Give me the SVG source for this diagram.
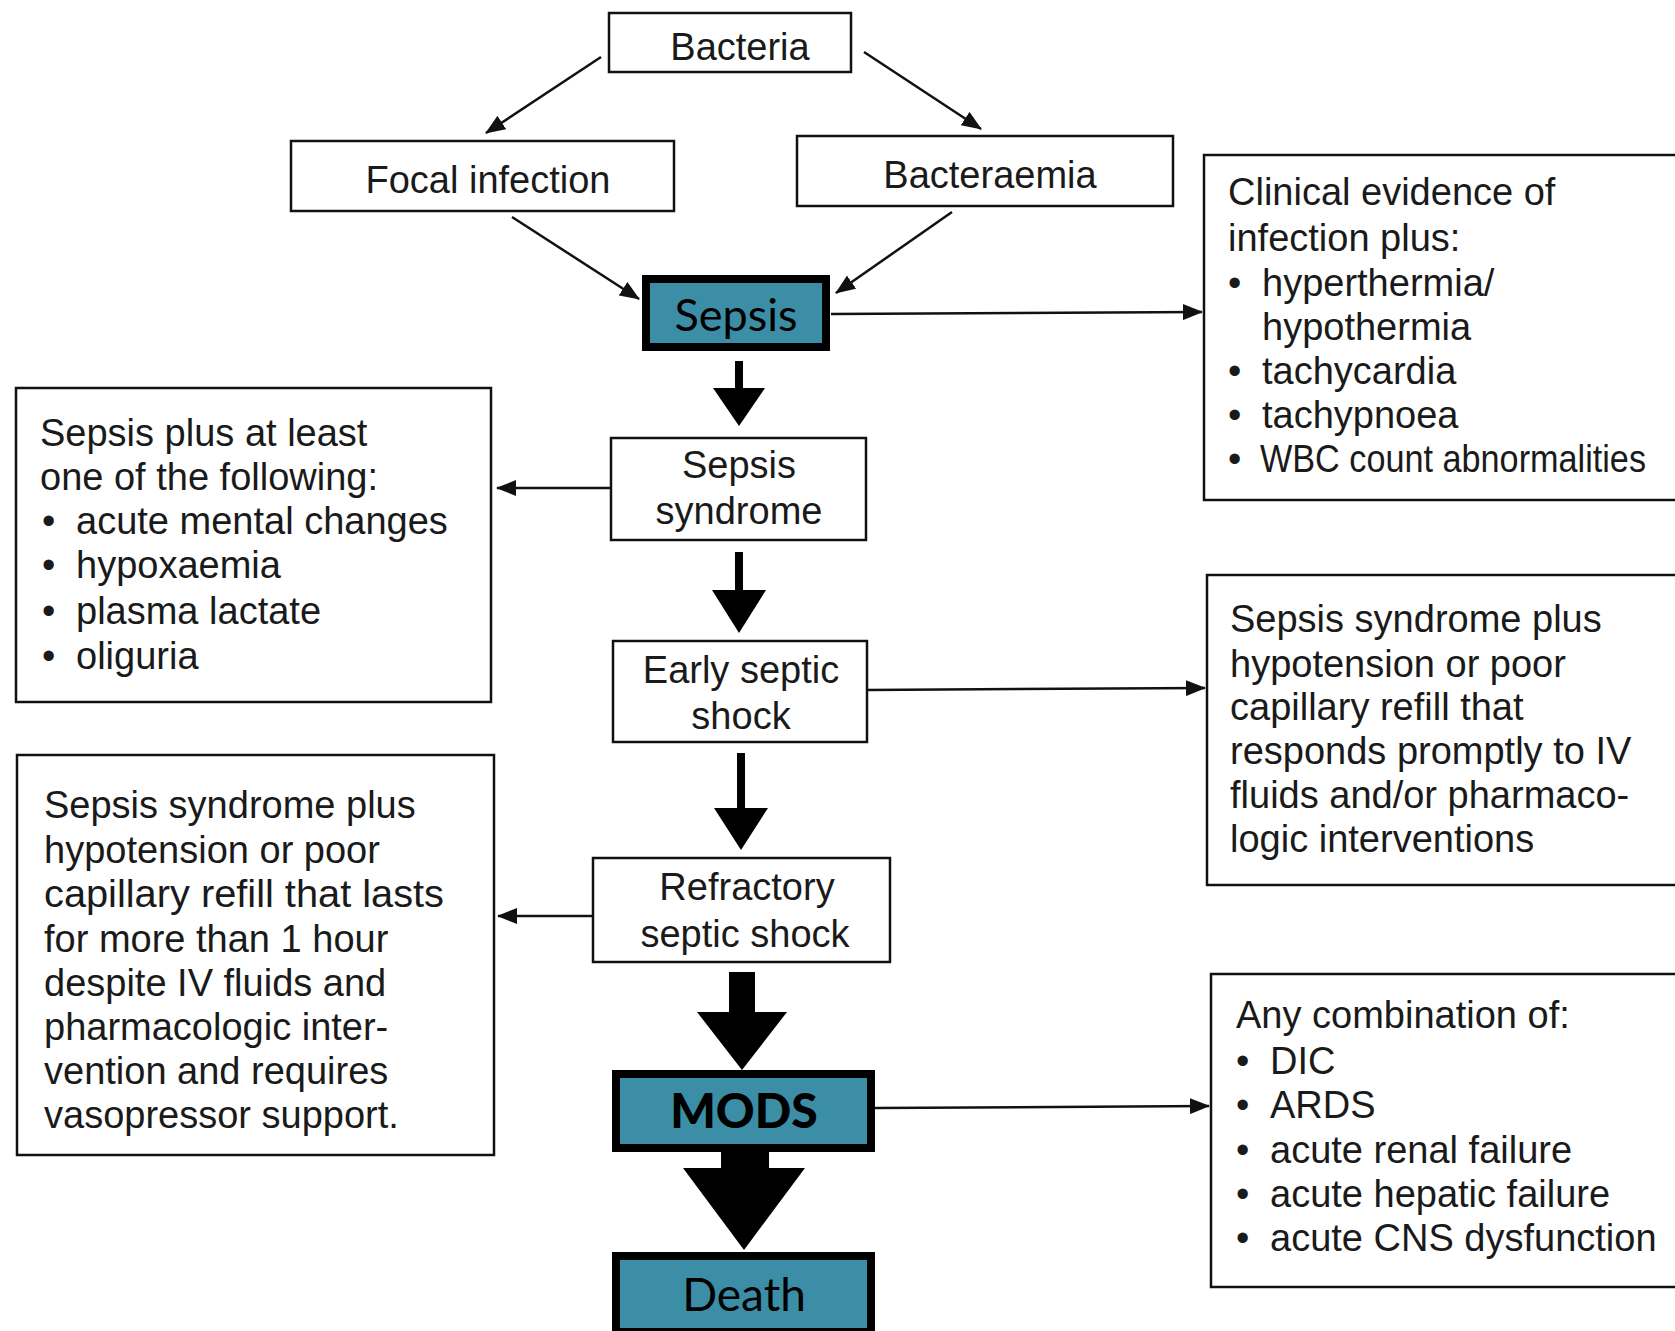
<svg xmlns="http://www.w3.org/2000/svg" width="1675" height="1331" viewBox="0 0 1675 1331">
<defs>
<style>
.box{fill:#fff;stroke:#111;stroke-width:2.5}
.tbox{fill:#3b8ea5;stroke:#000;stroke-width:8}
.t{font-family:"Liberation Sans",Arial,sans-serif;font-size:38px;fill:#1a1a1a}
.c{text-anchor:middle}
.g{font-family:Lato,"Open Sans",sans-serif;fill:#000;text-anchor:middle}
.ln{stroke:#111;stroke-width:2.5;fill:none}
.thick{fill:#000}
</style>
<marker id="ah" markerUnits="userSpaceOnUse" markerWidth="20" markerHeight="16" refX="19" refY="8" orient="auto">
<path d="M0,0 L20,8 L0,16 z" fill="#111"/>
</marker>
</defs>
<rect width="1675" height="1331" fill="#fff"/>

<g id="connectors">
<line class="ln" x1="601" y1="57" x2="486" y2="133" marker-end="url(#ah)"/>
<line class="ln" x1="864" y1="52" x2="981" y2="129" marker-end="url(#ah)"/>
<line class="ln" x1="512" y1="217" x2="639" y2="299" marker-end="url(#ah)"/>
<line class="ln" x1="952" y1="212" x2="836" y2="293" marker-end="url(#ah)"/>
<line class="ln" x1="831" y1="314" x2="1202" y2="312" marker-end="url(#ah)"/>
<line class="ln" x1="611" y1="488" x2="497" y2="488" marker-end="url(#ah)"/>
<line class="ln" x1="867" y1="690" x2="1205" y2="688" marker-end="url(#ah)"/>
<line class="ln" x1="593" y1="916" x2="498" y2="916" marker-end="url(#ah)"/>
<line class="ln" x1="875" y1="1108" x2="1209" y2="1106" marker-end="url(#ah)"/>
<rect class="thick" x="735" y="361" width="8" height="30"/>
<polygon class="thick" points="713,388 765,388 739,426"/>
<rect class="thick" x="735" y="552" width="8" height="40"/>
<polygon class="thick" points="712,590 766,590 739,633"/>
<rect class="thick" x="737" y="753" width="8" height="57"/>
<polygon class="thick" points="714,808 768,808 741,850"/>
<rect class="thick" x="729" y="972" width="26" height="42"/>
<polygon class="thick" points="697,1012 787,1012 742,1070"/>
<rect class="thick" x="721" y="1152" width="48" height="18"/>
<polygon class="thick" points="683,1168 805,1168 744,1250"/>
</g>

<g id="bacteria">
<rect class="box" x="609" y="13" width="242" height="59"/>
<text class="t c" x="740" y="60" font-size="39">Bacteria</text>
</g>
<g id="focal">
<rect class="box" x="291" y="141" width="383" height="70"/>
<text class="t c" x="488" y="193" font-size="40">Focal infection</text>
</g>
<g id="bacteraemia">
<rect class="box" x="797" y="136" width="376" height="70"/>
<text class="t c" x="990" y="188" font-size="40">Bacteraemia</text>
</g>
<g id="sepsis">
<rect class="tbox" x="646" y="279" width="180" height="68"/>
<text class="g" x="736" y="331" font-size="45">Sepsis</text>
</g>
<g id="clinical">
<rect class="box" x="1204" y="155" width="500" height="345"/>
<text class="t" x="1228" y="205">Clinical evidence of</text>
<text class="t" x="1228" y="251">infection plus:</text>
<text class="t" x="1228" y="296">•</text><text class="t" x="1262" y="296">hyperthermia/</text>
<text class="t" x="1262" y="340">hypothermia</text>
<text class="t" x="1228" y="384">•</text><text class="t" x="1262" y="384">tachycardia</text>
<text class="t" x="1228" y="428">•</text><text class="t" x="1262" y="428">tachypnoea</text>
<text class="t" x="1228" y="472">•</text><text class="t" x="1260" y="472" textLength="386" lengthAdjust="spacingAndGlyphs">WBC count abnormalities</text>
</g>
<g id="sepsis-syndrome">
<rect class="box" x="611" y="438" width="255" height="102"/>
<text class="t c" x="739" y="478">Sepsis</text>
<text class="t c" x="739" y="524">syndrome</text>
</g>
<g id="syndrome-def">
<rect class="box" x="16" y="388" width="475" height="314"/>
<text class="t" x="40" y="446">Sepsis plus at least</text>
<text class="t" x="40" y="490">one of the following:</text>
<text class="t" x="42" y="534">•</text><text class="t" x="76" y="534">acute mental changes</text>
<text class="t" x="42" y="578">•</text><text class="t" x="76" y="578">hypoxaemia</text>
<text class="t" x="42" y="624">•</text><text class="t" x="76" y="624">plasma lactate</text>
<text class="t" x="42" y="669">•</text><text class="t" x="76" y="669">oliguria</text>
</g>
<g id="early-septic-shock">
<rect class="box" x="613" y="641" width="254" height="101"/>
<text class="t c" x="741" y="683">Early septic</text>
<text class="t c" x="741" y="729">shock</text>
</g>
<g id="early-def">
<rect class="box" x="1207" y="575" width="500" height="310"/>
<text class="t" x="1230" y="632">Sepsis syndrome plus</text>
<text class="t" x="1230" y="677">hypotension or poor</text>
<text class="t" x="1230" y="720">capillary refill that</text>
<text class="t" x="1230" y="764">responds promptly to IV</text>
<text class="t" x="1230" y="808">fluids and/or pharmaco-</text>
<text class="t" x="1230" y="852">logic interventions</text>
</g>
<g id="refractory">
<rect class="box" x="593" y="858" width="297" height="104"/>
<text class="t c" x="747" y="900">Refractory</text>
<text class="t c" x="745" y="947">septic shock</text>
</g>
<g id="refractory-def">
<rect class="box" x="17" y="755" width="477" height="400"/>
<text class="t" x="44" y="818">Sepsis syndrome plus</text>
<text class="t" x="44" y="863">hypotension or poor</text>
<text class="t" x="44" y="907" textLength="400" lengthAdjust="spacingAndGlyphs">capillary refill that lasts</text>
<text class="t" x="44" y="952">for more than 1 hour</text>
<text class="t" x="44" y="996">despite IV fluids and</text>
<text class="t" x="44" y="1040">pharmacologic inter-</text>
<text class="t" x="44" y="1084">vention and requires</text>
<text class="t" x="44" y="1128">vasopressor support.</text>
</g>
<g id="mods">
<rect class="tbox" x="616" y="1074" width="255" height="74"/>
<text class="g" x="744" y="1128" font-size="48" font-weight="900">MODS</text>
</g>
<g id="mods-def">
<rect class="box" x="1211" y="974" width="500" height="313"/>
<text class="t" x="1236" y="1028">Any combination of:</text>
<text class="t" x="1236" y="1074">•</text><text class="t" x="1270" y="1074">DIC</text>
<text class="t" x="1236" y="1118">•</text><text class="t" x="1270" y="1118">ARDS</text>
<text class="t" x="1236" y="1163">•</text><text class="t" x="1270" y="1163">acute renal failure</text>
<text class="t" x="1236" y="1207">•</text><text class="t" x="1270" y="1207">acute hepatic failure</text>
<text class="t" x="1236" y="1251">•</text><text class="t" x="1270" y="1251">acute CNS dysfunction</text>
</g>
<g id="death">
<rect class="tbox" x="616" y="1256" width="255" height="76"/>
<text class="g" x="744" y="1311" font-size="46">Death</text>
</g>
</svg>
